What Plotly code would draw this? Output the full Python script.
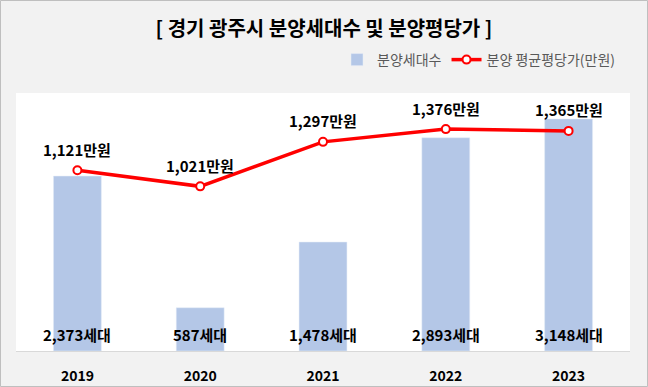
import plotly.graph_objects as go

years = ["2019", "2020", "2021", "2022", "2023"]
units = [2373, 587, 1478, 2893, 3148]
price = [1121, 1021, 1297, 1376, 1365]

FONT = "Noto Sans CJK KR, Noto Sans, sans-serif"
W, H = 648, 387
L, R, T, B = 16, 18, 93, 36

fig = go.Figure()
fig.add_trace(go.Bar(
    x=years, y=units, name="분양세대수", marker_color="#B4C7E7",
    width=0.39, yaxis="y", hoverinfo="skip",
))
fig.add_trace(go.Scatter(
    x=years, y=price, name="분양 평균평당가(만원)", mode="lines+markers",
    line=dict(color="#FF0000", width=3.5),
    marker=dict(size=8, color="white", line=dict(color="#FF0000", width=2)),
    yaxis="y2", hoverinfo="skip",
))

anns = []
for i, v in enumerate(units):
    anns.append(dict(x=i, y=0, xref="x", yref="y", text=f"<b>{v:,}세대</b>",
                     showarrow=False, yshift=17, font=dict(size=15, color="#000000", family=FONT)))
for i, v in enumerate(price):
    anns.append(dict(x=i, y=v, xref="x", yref="y2", text=f"<b>{v:,}만원</b>",
                     showarrow=False, yshift=21, font=dict(size=15, color="#000000", family=FONT)))

pw = W - L - R
ph = H - T - B
def px_x(p):
    return (p - L) / pw
def px_y(p):
    return (H - B - p) / ph

fig.update_layout(
    width=W, height=H, autosize=False,
    margin=dict(l=L, r=R, t=T, b=B, pad=0, autoexpand=False),
    paper_bgcolor="#F2F2F2", plot_bgcolor="#FFFFFF",
    font=dict(family=FONT, color="#000000"),
    title=dict(text="<b>[ 경기 광주시 분양세대수 및 분양평당가 ]</b>", x=0.5, xanchor="center",
               xref="container", yref="container", y=1 - 29 / H, yanchor="middle",
               font=dict(size=20, color="#000000", family=FONT)),
    showlegend=True,
    legend=dict(orientation="h", x=px_x(621), xanchor="right", y=px_y(60), yanchor="middle",
                font=dict(size=14, color="#595959", family=FONT), bgcolor="rgba(0,0,0,0)",
                itemwidth=30, traceorder="normal"),
    xaxis=dict(type="category", range=[-0.5, len(years) - 0.5], showline=True, automargin=False,
               linecolor="#D9D9D9", linewidth=1,
               ticks="outside", ticklen=12, tickcolor="rgba(0,0,0,0)",
               tickfont=dict(size=14, color="#000000", family=FONT), showgrid=False,
               tickprefix="<b>", ticksuffix="</b>", fixedrange=True),
    yaxis=dict(range=[0, 3500], visible=False, showgrid=False, fixedrange=True, automargin=False),
    yaxis2=dict(range=[0, 1600], visible=False, overlaying="y", side="right", showgrid=False,
                fixedrange=True, automargin=False),
    annotations=anns,
    shapes=[dict(type="rect", xref="paper", yref="paper",
                 x0=px_x(0.5), x1=px_x(W - 0.5), y0=px_y(H - 0.5), y1=px_y(0.5),
                 line=dict(color="#BFBFBF", width=1), fillcolor="rgba(0,0,0,0)", layer="above")],
)

fig.write_html("out.html", config={"displayModeBar": False},
               post_script="document.body.style.margin='0';document.body.style.overflow='hidden';")
